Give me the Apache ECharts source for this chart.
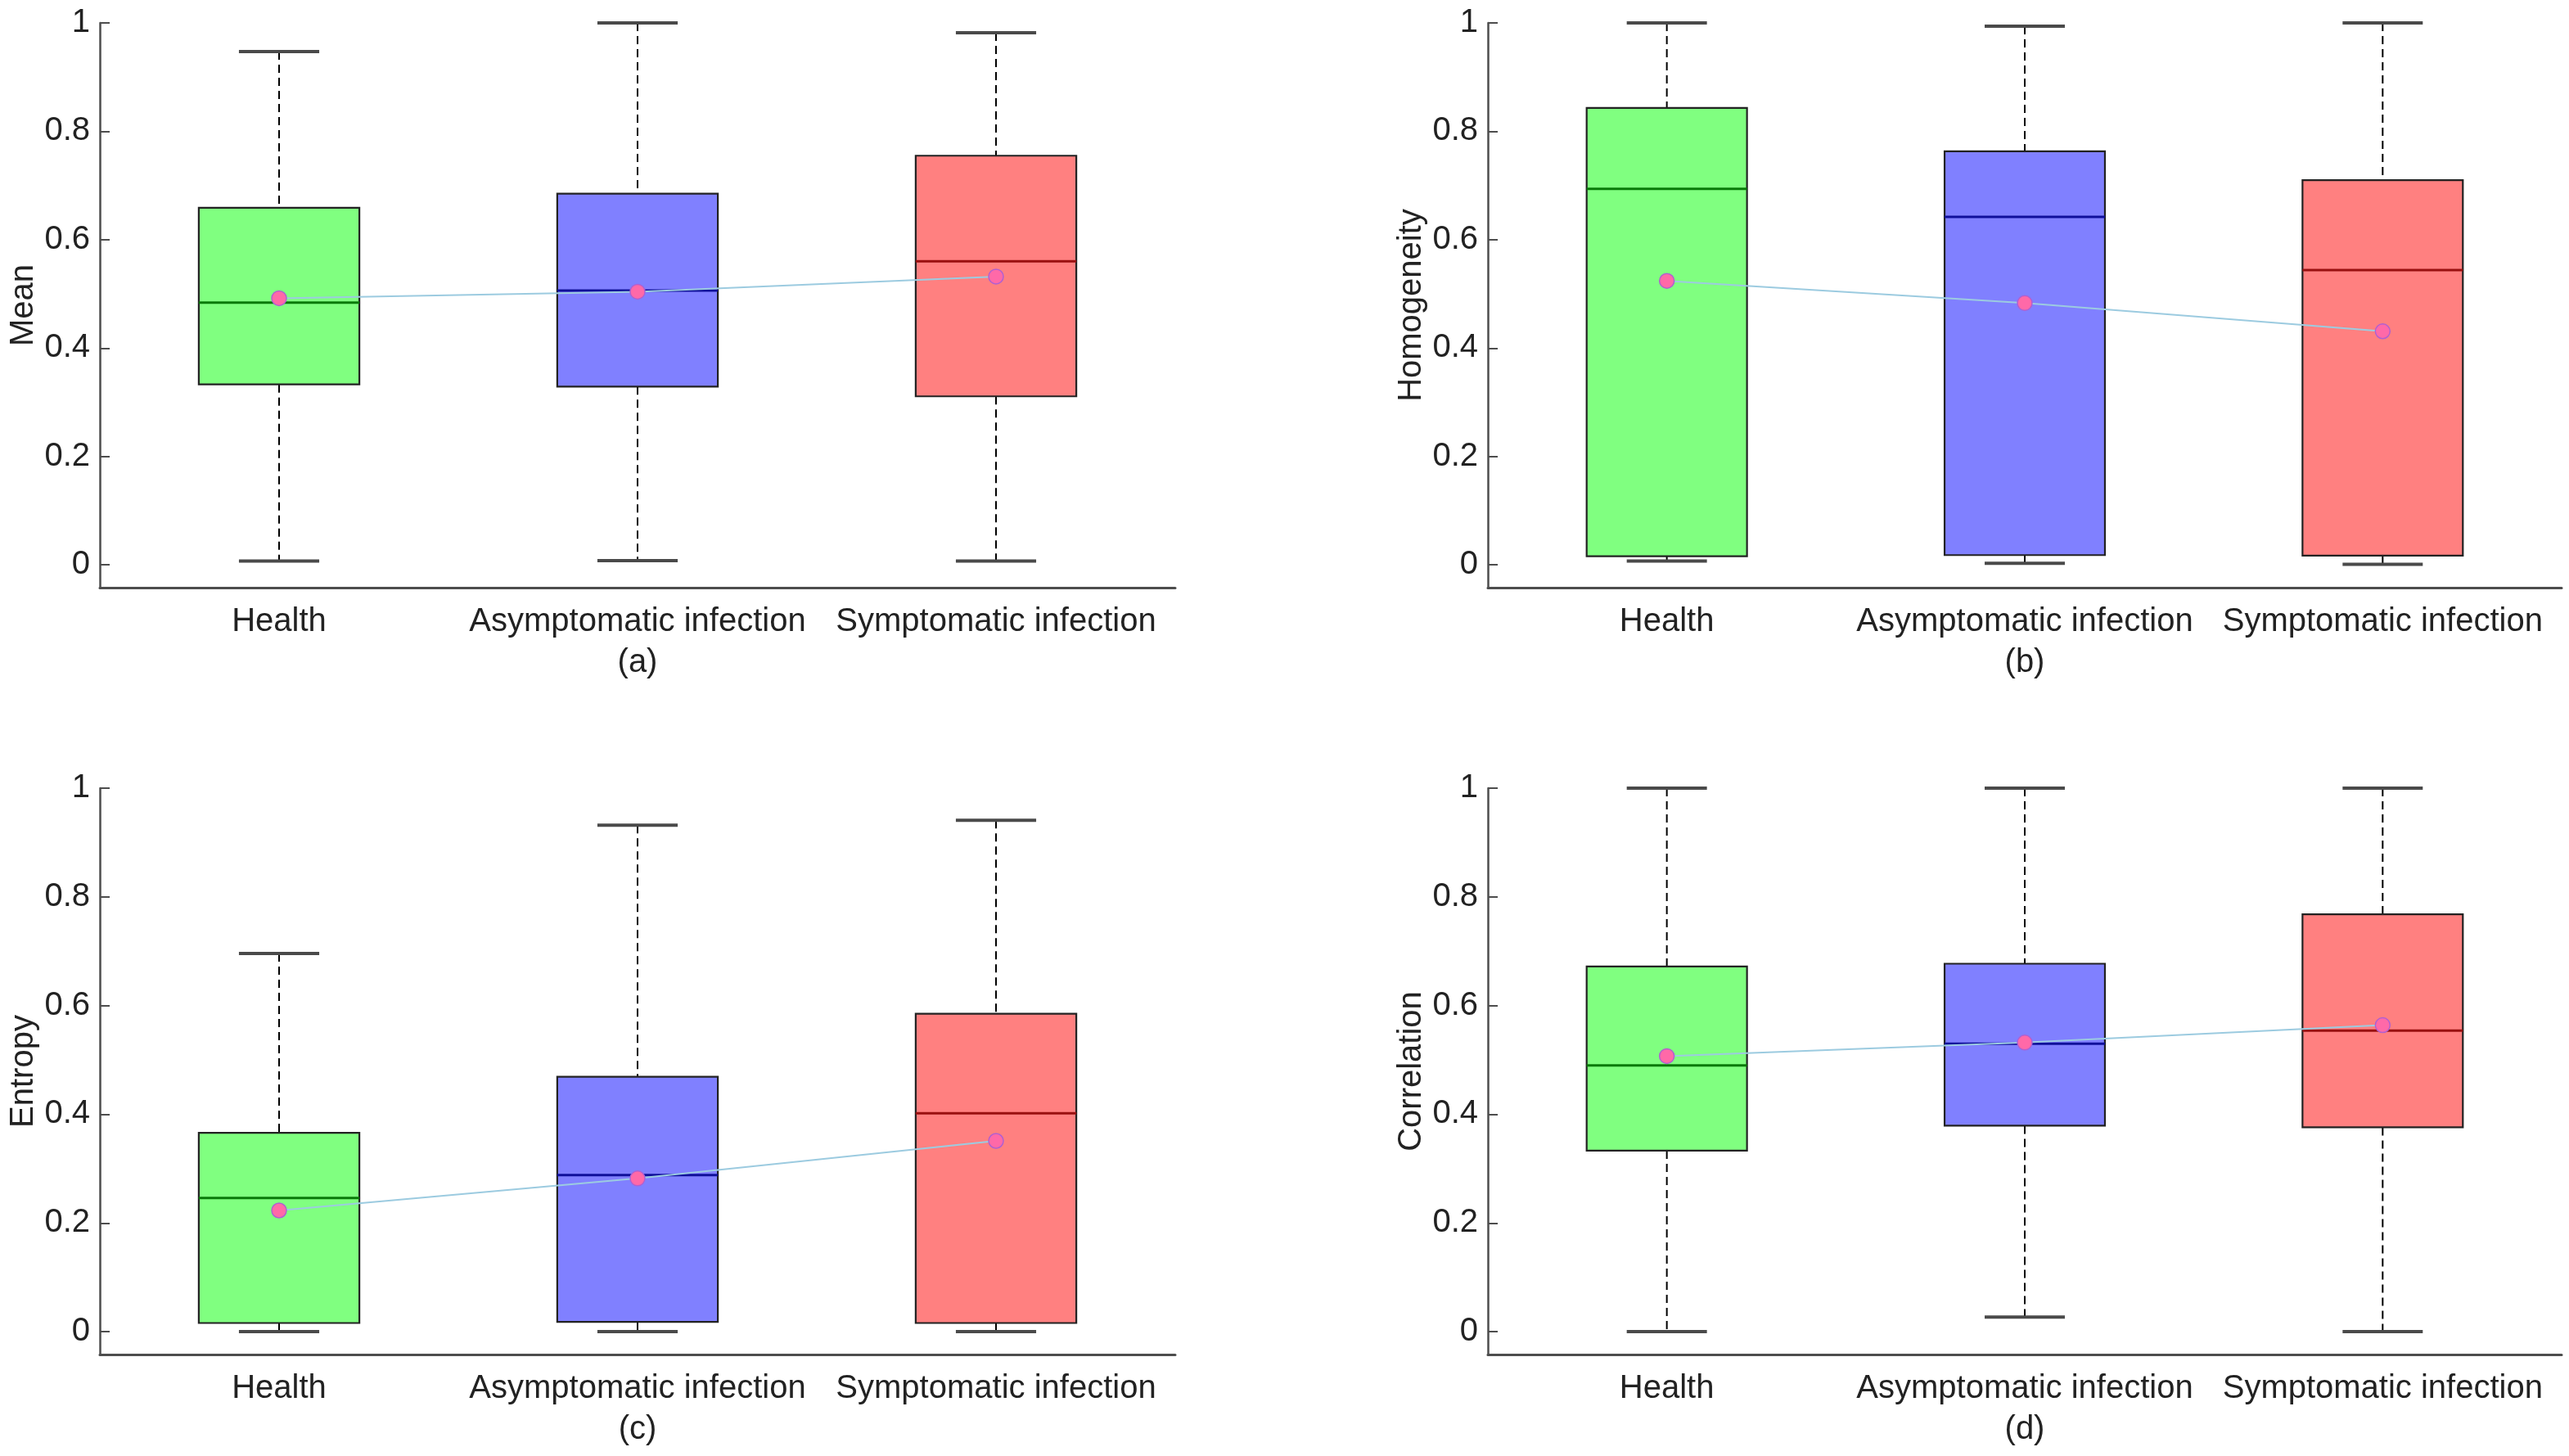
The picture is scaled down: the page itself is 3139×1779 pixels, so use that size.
<!DOCTYPE html>
<html>
<head>
<meta charset="utf-8">
<script src="https://cdn.jsdelivr.net/npm/echarts@6/dist/echarts.min.js"></script>
<style>
  html, body { margin: 0; padding: 0; background: #fff; }
  #chart { width: 3139px; height: 1779px; }
</style>
</head>
<body>
<div id="chart"></div>
<script>
const categories = ["Health", "Asymptomatic infection", "Symptomatic infection"];
const panelNames = ["Mean", "Homogeneity", "Entropy", "Correlation"];
const panelTags = ["(a)", "(b)", "(c)", "(d)"];
const yTicks = [0, 0.2, 0.4, 0.6, 0.8, 1];

// each box: [min, Q1, median, Q3, max]
const meanBoxes = [[0.007, 0.333, 0.484, 0.659, 0.947], [0.008, 0.329, 0.506, 0.685, 1.0], [0.007, 0.311, 0.560, 0.755, 0.982]];
const meanMeans = [0.492, 0.504, 0.532];
const homogeneityBoxes = [[0.007, 0.016, 0.694, 0.843, 1.0], [0.003, 0.018, 0.642, 0.763, 0.994], [0.001, 0.017, 0.544, 0.710, 1.0]];
const homogeneityMeans = [0.524, 0.483, 0.431];
const entropyBoxes = [[0.0, 0.016, 0.246, 0.366, 0.696], [0.0, 0.018, 0.288, 0.469, 0.932], [0.0, 0.016, 0.402, 0.585, 0.941]];
const entropyMeans = [0.223, 0.282, 0.351];
const correlationBoxes = [[0.0, 0.333, 0.490, 0.672, 1.0], [0.027, 0.379, 0.530, 0.677, 1.0], [0.0, 0.376, 0.554, 0.768, 1.0]];
const correlationMeans = [0.507, 0.532, 0.564];

const boxFill = ["#80ff80", "#8080ff", "#ff8080"];
const medianColor = ["#0a7a0a", "#10109a", "#991010"];

const allBoxes = [meanBoxes, homogeneityBoxes, entropyBoxes, correlationBoxes];
const allMeans = [meanMeans, homogeneityMeans, entropyMeans, correlationMeans];

const FONT = "Liberation Sans, Arial, sans-serif";
const TEXT = "#222";
const AXIS = "#4d4d4d";

const grids = [
  { left: 122, top: 28, width: 1314, height: 690 },
  { left: 1818, top: 28, width: 1312, height: 690 },
  { left: 122, top: 963, width: 1314, height: 692 },
  { left: 1818, top: 963, width: 1312, height: 692 }
];

function renderBox(params, api) {
  const i = api.value(0);
  const lo = api.coord([i, api.value(1)]);
  const q1 = api.coord([i, api.value(2)]);
  const med = api.coord([i, api.value(3)]);
  const q3 = api.coord([i, api.value(4)]);
  const hi = api.coord([i, api.value(5)]);
  const band = api.size([1, 0])[0];
  const half = band * 0.224;
  const cap = half * 0.5;
  const x = q1[0];
  const dash = { stroke: "#000", lineWidth: 2, lineDash: [10, 6] };
  const capStyle = { stroke: "#4a4a4a", lineWidth: 4 };
  return {
    type: "group",
    children: [
      { type: "line", shape: { x1: x, y1: hi[1], x2: x, y2: q3[1] }, style: dash },
      { type: "line", shape: { x1: x, y1: q1[1], x2: x, y2: lo[1] }, style: dash },
      { type: "line", shape: { x1: x - cap, y1: hi[1], x2: x + cap, y2: hi[1] }, style: capStyle },
      { type: "line", shape: { x1: x - cap, y1: lo[1], x2: x + cap, y2: lo[1] }, style: capStyle },
      { type: "rect", shape: { x: x - half, y: q3[1], width: half * 2, height: q1[1] - q3[1] },
        style: { fill: boxFill[i], stroke: "#222", lineWidth: 2.2 } },
      { type: "line", shape: { x1: x - half, y1: med[1], x2: x + half, y2: med[1] },
        style: { stroke: medianColor[i], lineWidth: 3 } }
    ]
  };
}

const xAxes = [], yAxes = [], series = [];
for (let k = 0; k < 4; k++) {
  xAxes.push({
    type: "category", gridIndex: k, data: categories, boundaryGap: true,
    axisLine: { onZero: false, lineStyle: { color: AXIS, width: 3 } },
    axisTick: { inside: true, alignWithLabel: true, length: 12, lineStyle: { color: AXIS, width: 2 } },
    axisLabel: { interval: 0, fontSize: 40, color: TEXT, fontFamily: FONT, margin: 22 },
    name: panelTags[k], nameLocation: "middle", nameGap: 72,
    nameTextStyle: { fontSize: 40, color: TEXT, fontFamily: FONT }
  });
  yAxes.push({
    type: "value", gridIndex: k, min: -0.042, max: 1,
    name: panelNames[k], nameLocation: "middle", nameGap: 73,
    nameTextStyle: { fontSize: 40, color: TEXT, fontFamily: FONT },
    axisLine: { show: true, lineStyle: { color: AXIS, width: 2.5 } },
    axisTick: { show: true, inside: true, length: 12, customValues: yTicks, lineStyle: { color: AXIS, width: 2 } },
    axisLabel: { customValues: yTicks, fontSize: 40, color: TEXT, fontFamily: FONT, margin: 12,
      formatter: v => String(Math.round(v * 10) / 10) },
    splitLine: { show: false }
  });
  series.push({
    type: "custom", xAxisIndex: k, yAxisIndex: k,
    data: allBoxes[k].map((b, i) => [i].concat(b)),
    encode: { x: 0, y: [1, 2, 3, 4, 5] },
    renderItem: renderBox, z: 2
  });
  series.push({
    type: "line", xAxisIndex: k, yAxisIndex: k, data: allMeans[k],
    symbol: "circle", symbolSize: 18, z: 5,
    lineStyle: { color: "#9ccbe0", width: 2 },
    itemStyle: { color: "#ff69a8", borderColor: "#b060d0", borderWidth: 1.5 }
  });
}

const chart = echarts.init(document.getElementById("chart"));
chart.setOption({
  animation: false,
  backgroundColor: "#fff",
  grid: grids,
  xAxis: xAxes,
  yAxis: yAxes,
  series: series
});
</script>
</body>
</html>
